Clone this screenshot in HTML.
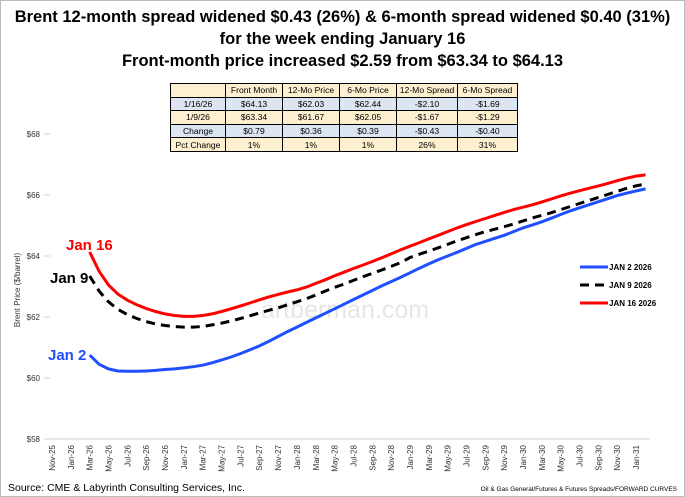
<!DOCTYPE html>
<html><head><meta charset="utf-8"><style>
body{margin:0;background:#fff;font-family:"Liberation Sans",sans-serif}
#wrap{position:relative;width:685px;height:497px;overflow:hidden}
.t{position:absolute;left:0;width:685px;text-align:center;font-weight:bold;font-size:16.5px;color:#000}
table{position:absolute;left:170px;top:83px;border-collapse:collapse;font-size:8.6px;font-family:"Liberation Sans",sans-serif}
td{border:1px solid #000;text-align:center;height:12.6px;padding:0 2px;line-height:12px}
tr.b td{background:#dce6f2}tr.y td{background:#fdf0d0}
</style></head><body>
<div id="wrap">
<div class="t" style="top:8px">Brent 12-month spread widened $0.43 (26%) &amp; 6-month spread widened $0.40 (31%)</div>
<div class="t" style="top:30px">for the week ending January 16</div>
<div class="t" style="top:52px">Front-month price increased $2.59 from $63.34 to $64.13</div>
<table>
<tr class="y"><td style="width:50px"></td><td style="width:52px">Front Month</td><td style="width:52px">12-Mo Price</td><td style="width:52px">6-Mo Price</td><td style="width:56px">12-Mo Spread</td><td style="width:55px">6-Mo Spread</td></tr>
<tr class="b"><td>1/16/26</td><td>$64.13</td><td>$62.03</td><td>$62.44</td><td>-$2.10</td><td>-$1.69</td></tr>
<tr class="y"><td>1/9/26</td><td>$63.34</td><td>$61.67</td><td>$62.05</td><td>-$1.67</td><td>-$1.29</td></tr>
<tr class="b"><td>Change</td><td>$0.79</td><td>$0.36</td><td>$0.39</td><td>-$0.43</td><td>-$0.40</td></tr>
<tr class="y"><td>Pct Change</td><td>1%</td><td>1%</td><td>1%</td><td>26%</td><td>31%</td></tr>
</table>
<svg id="svg" width="685" height="497" style="position:absolute;left:0;top:0">
<rect x="0.5" y="0.5" width="684" height="496" fill="none" stroke="#bbb"/>
</svg>
</div>
<script>
const yTicks=[58,60,62,64,66,68];
const xTickLabels=["Nov-25","Jan-26","Mar-26","May-26","Jul-26","Sep-26","Nov-26","Jan-27","Mar-27","May-27","Jul-27","Sep-27","Nov-27","Jan-28","Mar-28","May-28","Jul-28","Sep-28","Nov-28","Jan-29","Mar-29","May-29","Jul-29","Sep-29","Nov-29","Jan-30","Mar-30","May-30","Jul-30","Sep-30","Nov-30","Jan-31"];
const seriesStartMonth=4;
const jan16=[64.13,63.5,63.05,62.75,62.55,62.4,62.28,62.18,62.1,62.05,62.02,62.02,62.05,62.1,62.18,62.27,62.36,62.46,62.56,62.66,62.74,62.82,62.89,62.98,63.1,63.22,63.35,63.47,63.59,63.7,63.82,63.94,64.07,64.2,64.32,64.44,64.56,64.68,64.8,64.92,65.03,65.13,65.23,65.33,65.43,65.52,65.6,65.68,65.77,65.87,65.97,66.06,66.14,66.22,66.3,66.38,66.47,66.55,66.62,66.66];
const jan9=[63.34,62.85,62.5,62.25,62.08,61.95,61.85,61.77,61.72,61.69,61.67,61.67,61.69,61.74,61.8,61.87,61.95,62.04,62.13,62.22,62.3,62.4,62.5,62.6,62.72,62.85,62.97,63.08,63.2,63.32,63.43,63.54,63.66,63.78,63.95,64.06,64.16,64.27,64.38,64.5,64.6,64.7,64.8,64.88,64.96,65.05,65.15,65.25,65.33,65.42,65.52,65.62,65.72,65.82,65.92,66.02,66.12,66.22,66.3,66.36];
const jan2=[60.75,60.45,60.3,60.23,60.22,60.22,60.23,60.25,60.28,60.3,60.33,60.37,60.42,60.5,60.59,60.69,60.8,60.92,61.05,61.2,61.36,61.52,61.67,61.82,61.97,62.12,62.27,62.42,62.57,62.72,62.87,63.02,63.16,63.3,63.45,63.6,63.74,63.88,64.0,64.12,64.25,64.38,64.48,64.58,64.68,64.8,64.92,65.02,65.12,65.24,65.36,65.48,65.58,65.68,65.78,65.88,65.98,66.06,66.13,66.2];
const NS="http://www.w3.org/2000/svg",svg=document.getElementById('svg');
const X0=52,DX=9.42,Y0=439,YS=30.5;
const xs=m=>X0+m*DX, ys=v=>Y0-(v-58)*YS;
function mk(t,a,p){const e=document.createElementNS(NS,t);for(const k in a)e.setAttribute(k,a[k]);(p||svg).appendChild(e);return e;}
const ax=mk('line',{x1:48,x2:650,y1:Y0,y2:Y0,stroke:'#d0d0d0'});


yTicks.forEach(v=>{const t=mk('text',{x:40,y:ys(v)+3,'text-anchor':'end','font-size':8,fill:'#333'});t.textContent='$'+v;


const tk=mk('line',{x1:44,x2:50,y1:ys(v),y2:ys(v),stroke:'#d0d0d0'});

});
xTickLabels.forEach((l,i)=>{const x=xs(i*2);const t=mk('text',{x:0,y:0,transform:`translate(${x+3},${Y0+6}) rotate(-90)`,'text-anchor':'end','font-size':8,fill:'#333'});t.textContent=l;

});
const yl=mk('text',{transform:'translate(20,290) rotate(-90)','text-anchor':'middle','font-size':8,fill:'#333'});yl.textContent='Brent Price ($/barrel)';


const wm=mk('text',{x:345,y:318,'text-anchor':'middle','font-size':25,fill:'#e6e6e6'});wm.textContent='artberman.com';


function line(d,col,dash,name){const p=mk('path',{d:d.map((v,i)=>(i?'L':'M')+xs(seriesStartMonth+i).toFixed(1)+','+ys(v).toFixed(1)).join(''),fill:'none',stroke:col,'stroke-width':3,'stroke-dasharray':dash||'none'});

}
line(jan2,'#1f4fff',null,'line-jan-2');
line(jan9,'#000','9,6','line-jan-9');
line(jan16,'#ff0000',null,'line-jan-16');
[['Jan 16','#ff0000',66,250],['Jan 9','#000',50,283],['Jan 2','#1f4fff',48,360]].forEach(([t,c,x,y])=>{const e=mk('text',{x:x,y:y,'font-size':15,'font-weight':'bold',fill:c});e.textContent=t;

});
[['JAN 2 2026','#1f4fff',null,267],['JAN 9 2026','#000','9,6',285],['JAN 16 2026','#ff0000',null,303]].forEach(([t,c,d,y])=>{const l=mk('line',{x1:580,x2:608,y1:y,y2:y,stroke:c,'stroke-width':3,'stroke-dasharray':d||'none'});


const e=mk('text',{x:609,y:y+3,'font-size':8,'font-weight':'bold',fill:'#000'});e.textContent=t;

});
const s=mk('text',{x:8,y:491,'font-size':10.5,fill:'#000'});s.textContent='Source: CME & Labyrinth Consulting Services, Inc.';


const f=mk('text',{x:677,y:491,'text-anchor':'end','font-size':6.5,fill:'#000'});f.textContent='Oil & Gas General/Futures & Futures Spreads/FORWARD CURVES';


</script>
</body></html>
